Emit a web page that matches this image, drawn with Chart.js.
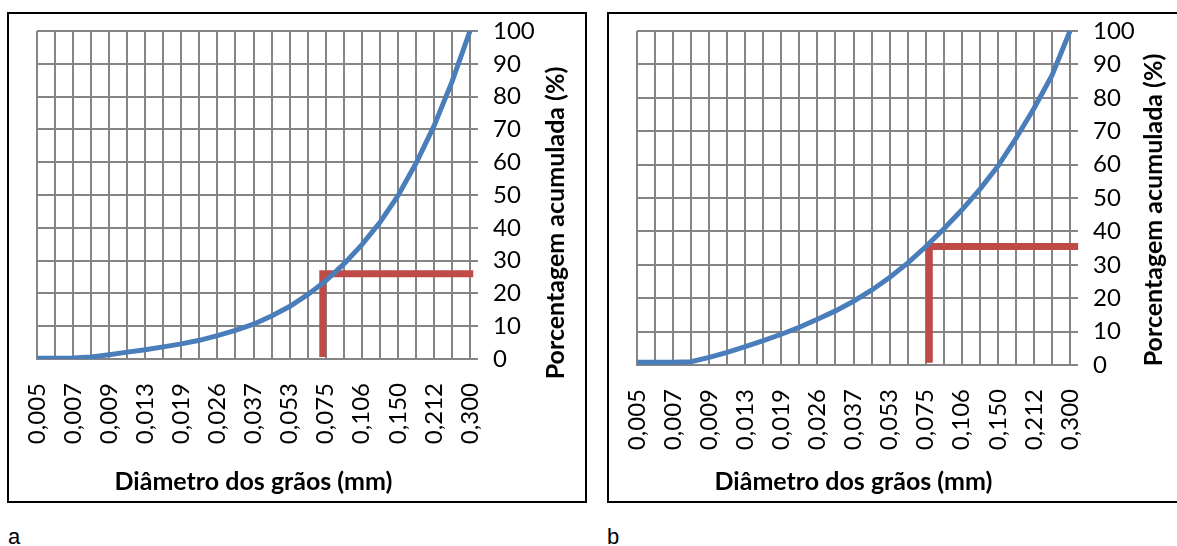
<!DOCTYPE html>
<html>
<head>
<meta charset="utf-8">
<script src="https://cdn.jsdelivr.net/npm/chart.js@4/dist/chart.umd.min.js"></script>
<style>
  body { margin: 0; width: 1177px; height: 546px; overflow: hidden; background: #fff; position: relative; font-family: "Liberation Sans", Arial, sans-serif; }
  .frame { position: absolute; top: 12px; width: 580px; height: 491px; border: 2px solid #000; box-sizing: border-box; }
  .frame canvas { position: absolute; left: 0; top: 0; }
  .tag { position: absolute; top: 524px; font-size: 22px; color: #000; }
</style>
</head>
<body>
<div class="frame" style="left:7px"><canvas id="chartA" width="576" height="487"></canvas></div>
<div class="frame" style="left:607px"><canvas id="chartB" width="576" height="487"></canvas></div>
<div class="tag" style="left:8px">a</div>
<div class="tag" style="left:607px">b</div>
<script>
// diâmetros (mm), só os de índice par aparecem no eixo
const diametros = ['0,005', '0,006', '0,007', '0,008', '0,009', '0,011', '0,013', '0,016', '0,019',
    '0,022', '0,026', '0,031', '0,037', '0,045', '0,053', '0,063', '0,075', '0,089', '0,106',
    '0,126', '0,150', '0,178', '0,212', '0,252', '0,300'];

const acumuladaA = [0.2, 0.2, 0.3, 0.6, 1.3, 2.1, 2.8, 3.7, 4.6, 5.7, 7.1, 8.7, 10.6, 13.1,
    16.0, 19.6, 23.8, 28.9, 34.8, 41.6, 49.7, 59.6, 71.0, 84.5, 100];
const acumuladaB = [0.8, 0.8, 0.8, 1.0, 2.3, 3.8, 5.5, 7.3, 9.2, 11.3, 13.7, 16.2, 19.1, 22.4,
    26.2, 30.5, 35.4, 40.7, 46.4, 52.6, 59.5, 67.8, 76.8, 86.7, 100];

// linha vermelha de leitura (posição em índice de categoria, % acumulada)
const marcaA_x = [15.84, 15.84, 24.18];
const marcaA_y = [0.6, 26.0, 26.0];
const marcaB_x = [16.2, 16.2, 24.45];
const marcaB_y = [0.7, 35.5, 35.5];

const yTicks = [0, 10, 20, 30, 40, 50, 60, 70, 80, 90, 100];

const tituloX = 'Diâmetro dos grãos (mm)';
const tituloY = 'Porcentagem acumulada (%)';

const gridColor = '#858585';
const fonte = 'Lato';

function yTitlePlugin(dx, dy) {
    return {
        id: 'yTitle',
        afterDraw(chart) {
            const ctx = chart.ctx;
            const a = chart.chartArea;
            ctx.save();
            ctx.translate(a.right + dx, (a.top + a.bottom) / 2 + dy);
            ctx.rotate(-Math.PI / 2);
            ctx.font = 'bold 25px ' + fonte;
            ctx.fillStyle = '#000';
            ctx.textAlign = 'center';
            ctx.textBaseline = 'middle';
            ctx.fillText(tituloY, 0, 0);
            ctx.restore();
        }
    };
}

function makeChart(id, valores, mx, my, xHeight, dx, dy) {
    const marca = mx.map((x, i) => ({ x: x, y: my[i] }));
    return new Chart(document.getElementById(id), {
        type: 'line',
        data: {
            labels: diametros,
            datasets: [{
                data: valores,
                borderColor: '#4A7EBB',
                borderWidth: 5,
                pointRadius: 0,
                tension: 0,
                fill: false
            }, {
                data: marca,
                xAxisID: 'xr',
                borderColor: '#BE4B48',
                borderWidth: 7,
                borderCapStyle: 'butt',
                borderJoinStyle: 'miter',
                pointRadius: 0,
                clip: false,
                fill: false
            }]
        },
        options: {
            responsive: false,
            animation: false,
            layout: { padding: { left: 28, top: 17, right: 0, bottom: 0 } },
            plugins: { legend: { display: false }, tooltip: { enabled: false } },
            scales: {
                x: {
                    offset: false,
                    grid: { color: gridColor, lineWidth: 2, drawTicks: false },
                    border: { color: gridColor, width: 2 },
                    ticks: {
                        autoSkip: false,
                        maxRotation: 90,
                        minRotation: 90,
                        padding: 24,
                        color: '#000',
                        font: { family: fonte, size: 24 },
                        callback: (v, i) => i % 2 === 0 ? diametros[i] : ''
                    },
                    title: {
                        display: true,
                        text: tituloX,
                        color: '#000',
                        font: { family: fonte, size: 25, weight: 'bold' },
                        padding: { top: 0, bottom: 4 }
                    },
                    afterFit: s => { s.height = xHeight; s.paddingLeft = 0; s.paddingRight = 0; }
                },
                xr: {
                    type: 'linear',
                    display: false,
                    min: 0,
                    max: 24
                },
                y: {
                    position: 'right',
                    min: 0,
                    max: 100,
                    grid: { color: gridColor, lineWidth: 2, tickLength: 8 },
                    border: { color: gridColor, width: 2 },
                    afterBuildTicks: s => { s.ticks = yTicks.map(v => ({ value: v })); },
                    ticks: {
                        autoSkip: false,
                        padding: 15,
                        color: '#000',
                        font: { family: fonte, size: 24 }
                    },
                    afterFit: s => { s.width = 115; s.paddingTop = 0; s.paddingBottom = 0; }
                }
            }
        },
        plugins: [yTitlePlugin(dx, dy)]
    });
}

makeChart('chartA', acumuladaA, marcaA_x, marcaA_y, 142, 86, 28);
makeChart('chartB', acumuladaB, marcaB_x, marcaB_y, 136, 83.5, 12);
</script>
</body>
</html>
